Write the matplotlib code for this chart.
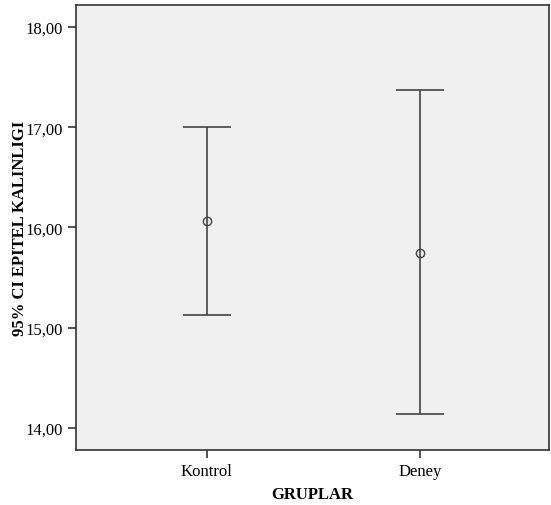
import numpy as np
import matplotlib
matplotlib.use("Agg")
from matplotlib import pyplot as plt

# data
groups = ["Kontrol", "Deney"]
means = [16.06, 15.75]
lower = [15.13, 14.14]
upper = [17.00, 17.37]

plt.rcParams["font.family"] = ["Liberation Serif", "DejaVu Serif"]

fig = plt.figure(figsize=(5.51, 5.06), dpi=100)
ax = fig.add_axes([0.138, 0.109, 0.858, 0.879])
ax.set_facecolor("#f0f0f0")

x = np.arange(len(groups))
m = np.array(means)
err = [m - np.array(lower), np.array(upper) - m]
ax.errorbar(x, m, yerr=err, fmt="o", mfc="none", mec="#444444", ms=6,
            ecolor="#444444", elinewidth=1.2, capsize=17, capthick=1.2, color="#444444")

ax.set_xlim(-0.61, 1.6)
ax.set_ylim(13.78, 18.22)
ax.set_yticks([14, 15, 16, 17, 18])
ax.set_yticklabels(["14,00", "15,00", "16,00", "17,00", "18,00"])
ax.set_xticks(x)
ax.set_xticklabels(groups)
ax.tick_params(labelsize=12, color="#333333", length=6, width=1.2)
for s in ax.spines.values():
    s.set_color("#333333")
    s.set_linewidth(1.2)

ax.set_xlabel("GRUPLAR", fontsize=12, fontweight="bold", va="center")
ax.set_ylabel("95% CI EPITEL KALINLIGI", fontsize=12, fontweight="bold", va="center")
ax.xaxis.set_label_coords(0.5, -0.099)
ax.yaxis.set_label_coords(-0.118, 0.5)

fig.savefig("out.png", dpi=100)
